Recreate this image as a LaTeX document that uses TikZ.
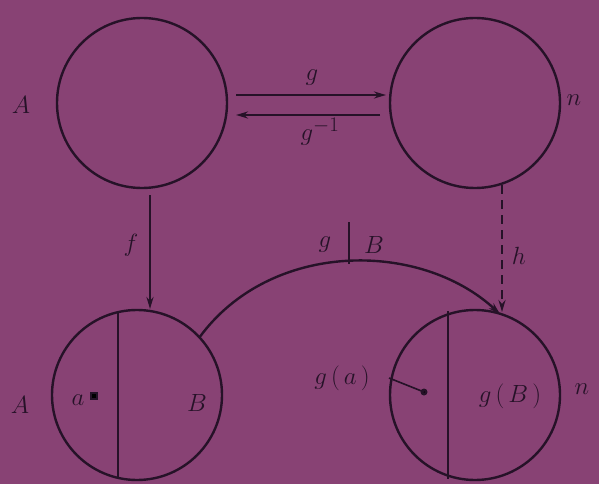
\documentclass[tikz,border=0pt]{standalone}
\usetikzlibrary{arrows.meta}
\definecolor{bgpurple}{RGB}{136,66,116}
\definecolor{ink}{RGB}{38,18,40}
\begin{document}
\begin{tikzpicture}[x=1pt,y=-1pt,
  ink/.style={draw=ink,line width=2.4pt},
  lbl/.style={text=ink,font=\fontsize{28}{32}\selectfont,inner sep=0pt},
  arr/.style={ink,-{Stealth[length=12pt,width=7pt]}}]
\fill[bgpurple] (0,0) rectangle (599,484);
\useasboundingbox (0,0) rectangle (599,484);
% circles
\node[ink,circle,minimum size=170pt,inner sep=0pt] (TL) at (142,103) {};
\node[ink,circle,minimum size=170pt,inner sep=0pt] (TR) at (475,103) {};
\node[ink,circle,minimum size=170pt,inner sep=0pt] (BL) at (137,395) {};
\node[ink,circle,minimum size=170pt,inner sep=0pt] (BR) at (475,395) {};
% dividing lines
\coordinate (bl1) at (118,311);
\coordinate (bl2) at (118,479);
\draw[ink] (bl1) -- (bl2);
\coordinate (br1) at (448,311);
\coordinate (br2) at (448,479);
\draw[ink] (br1) -- (br2);
% g and g^-1
\coordinate (g1) at (236,95);
\coordinate (g2) at (386,95);
\draw[arr] (g1) -- (g2);
\coordinate (gi1) at (380,115);
\coordinate (gi2) at (236,115);
\draw[arr] (gi1) -- (gi2);
\node[lbl] (glab) at (312,78) {$g$};
\node[lbl] (gilab) at (320,132) {$g^{-1}$};
% f
\coordinate (f1) at (150,195);
\coordinate (f2) at (150,309);
\draw[arr] (f1) -- (f2);
\node[lbl] (flab) at (131,245) {$f$};
% h dashed
\coordinate (h1) at (502,185);
\coordinate (h2) at (502,312);
\draw[arr,dash pattern=on 9pt off 6pt] (h1) -- (h2);
\node[lbl] (hlab) at (519,256) {$h$};
% g|B curve
\coordinate (c1) at (199,338);
\coordinate (c2) at (500,314);
\draw[arr] (c1) .. controls (270,240) and (420,240) .. (c2);
\coordinate (bar1) at (349,222);
\coordinate (bar2) at (349,264);
\draw[ink,line width=1.6pt] (bar1) -- (bar2);
\node[lbl] (gB1) at (325,245) {$g$};
\node[lbl] (gB2) at (374,245) {$B$};
% labels
\node[lbl] (A1) at (21,105) {$A$};
\node[lbl] (n1) at (574,100) {$n$};
\node[lbl] (A2) at (20,405) {$A$};
\node[lbl] (a) at (78,400) {$a$};
\fill[ink] (91,393) rectangle (97,399);
\node[lbl] (B) at (197,403) {$B$};
\node[lbl] (ga) at (342,378) {$g\,(\,a\,)$};
\coordinate (gad) at (424,392);
\fill[ink] (gad) circle (2.2pt);
\draw[ink,line width=1.6pt] (389,378) -- (gad);
\node[lbl] (gb) at (510,396) {$g\,(\,B\,)$};
\node[lbl] (n2) at (582,389) {$n$};
\end{tikzpicture}
\end{document}
